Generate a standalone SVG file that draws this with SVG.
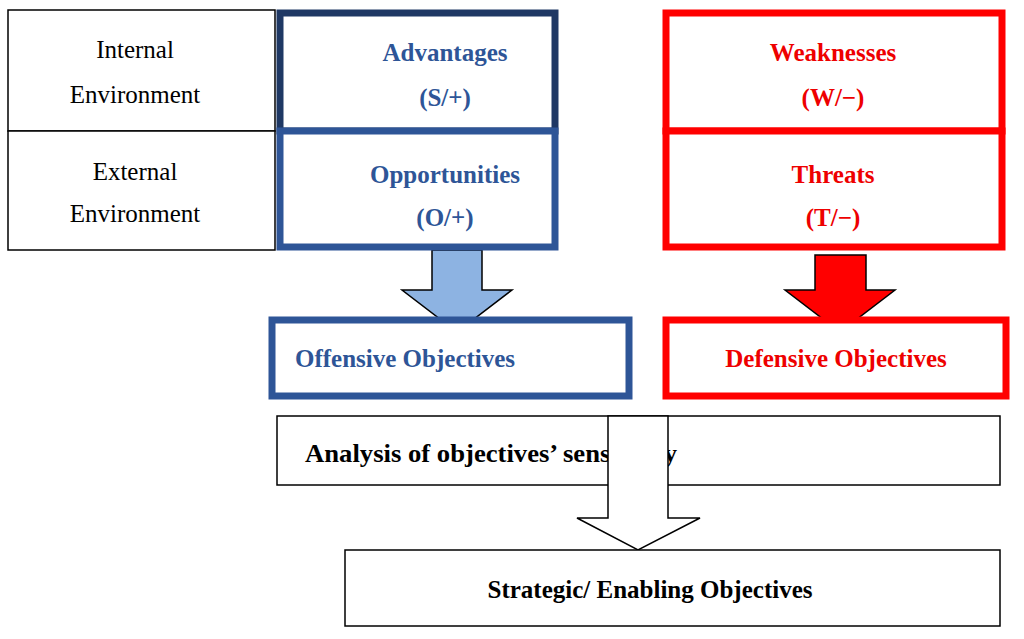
<svg xmlns="http://www.w3.org/2000/svg" width="1024" height="639" viewBox="0 0 1024 639">
<style>
.t{font-family:"Liberation Serif",serif;font-size:25px;text-anchor:middle}
.b{font-weight:bold}
.thin{fill:#fff;stroke:#000;stroke-width:1.5}
</style>
<rect width="1024" height="639" fill="#fff"/>
<g id="analysis"><rect class="thin" x="277" y="416" width="723" height="69"/><text class="t b" x="305" y="462" style="text-anchor:start" textLength="372" lengthAdjust="spacingAndGlyphs">Analysis of objectives’ sensitivity</text></g>
<g id="connectors">
<polygon points="432,250 482,250 482,290 512,290 457,332 402,290 432,290" fill="#8db3e2" stroke="#000" stroke-width="1.5"/>
<polygon points="815,255 866,255 866,290 895,290 840,332 785,290 815,290" fill="#f00" stroke="#000" stroke-width="1.5"/>
<polygon points="608,416 668,416 668,518 700,518 638,550 577,518 608,518" fill="#fff" stroke="#000" stroke-width="1.5"/>
</g>
<g id="internal"><rect class="thin" x="8" y="10" width="267" height="121"/><text class="t" x="135" y="58">Internal</text><text class="t" x="135" y="103">Environment</text></g>
<g id="external"><rect class="thin" x="8" y="131" width="267" height="119"/><text class="t" x="135" y="180">External</text><text class="t" x="135" y="222">Environment</text></g>
<g id="advantages"><rect x="280" y="13" width="275" height="118" fill="#fff" stroke="#1f3864" stroke-width="7"/><text class="t b" x="445" y="61" fill="#2e5597">Advantages</text><text class="t b" x="445" y="106" fill="#2e5597">(S/+)</text></g>
<g id="opportunities"><rect x="280" y="131" width="275" height="116" fill="#fff" stroke="#2e5597" stroke-width="7"/><text class="t b" x="445" y="183" fill="#2e5597">Opportunities</text><text class="t b" x="445" y="226" fill="#2e5597">(O/+)</text></g>
<g id="weaknesses"><rect x="666" y="13" width="336" height="118" fill="#fff" stroke="#f00" stroke-width="7"/><text class="t b" x="833" y="61" fill="#e00">Weaknesses</text><text class="t b" x="833" y="106" fill="#e00">(W/−)</text></g>
<g id="threats"><rect x="666" y="131" width="336" height="116" fill="#fff" stroke="#f00" stroke-width="7"/><text class="t b" x="833" y="183" fill="#e00">Threats</text><text class="t b" x="833" y="226" fill="#e00">(T/−)</text></g>
<g id="offensive"><rect x="272" y="320" width="357" height="76" fill="#fff" stroke="#2e5597" stroke-width="7"/><text class="t b" x="295" y="367" fill="#2e5597" style="text-anchor:start">Offensive Objectives</text></g>
<g id="defensive"><rect x="666" y="320" width="340" height="76" fill="#fff" stroke="#f00" stroke-width="7"/><text class="t b" x="836" y="367" fill="#e00">Defensive Objectives</text></g>
<g id="strategic"><rect class="thin" x="345" y="550" width="655" height="76"/><text class="t b" x="650" y="598">Strategic/ Enabling Objectives</text></g>
</svg>
